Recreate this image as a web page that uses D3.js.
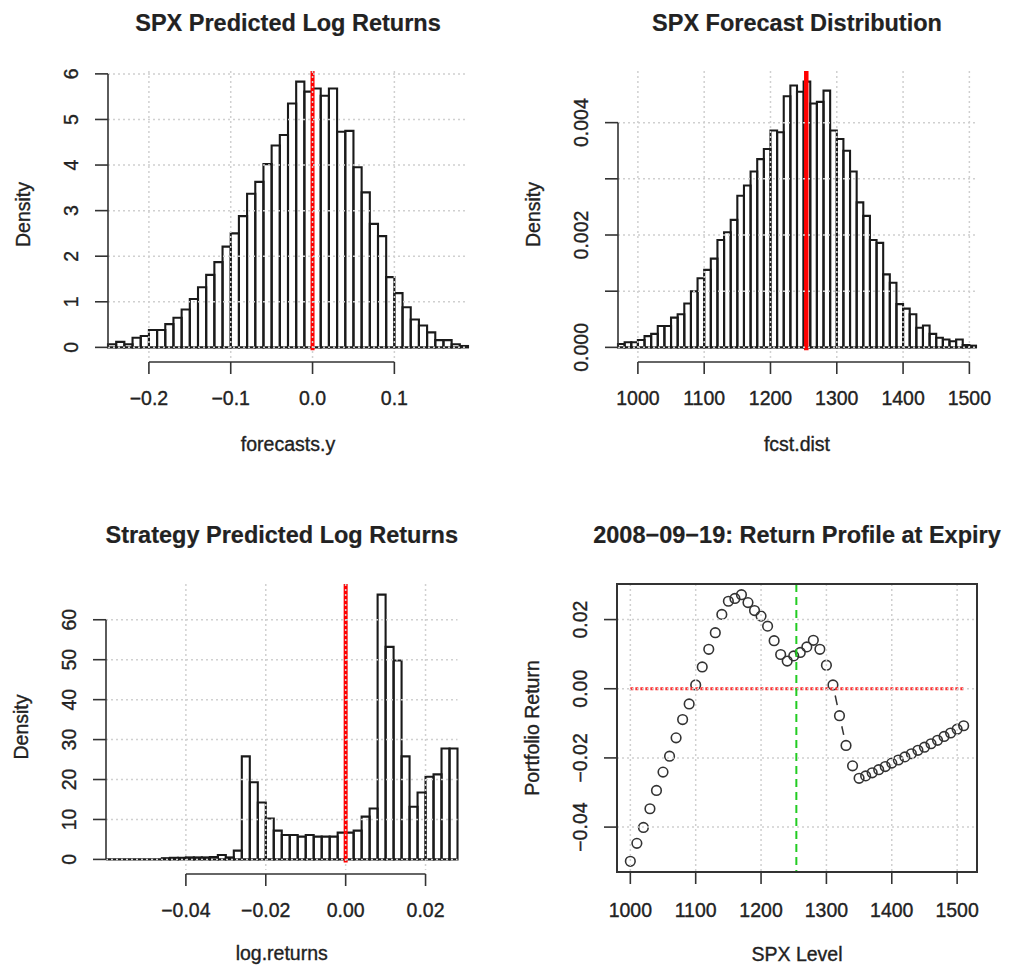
<!DOCTYPE html>
<html>
<head>
<meta charset="utf-8">
<script src="https://cdn.jsdelivr.net/npm/d3@7"></script>
<style>
body{margin:0;background:#fff;}
text{font-family:"Liberation Sans",Arial,Helvetica,sans-serif;fill:#222;stroke:#222;stroke-width:0.35px;}
.title{font-weight:bold;font-size:23.5px;stroke-width:0.2px;}
.tick{font-size:19.5px;}
.lab{font-size:19.5px;}
</style>
</head>
<body>
<div id="chart"></div>
<script>
//---- data ----

//SPX predicted log returns (breaks of 0.01 starting at -0.25)
var fcBinStart=-0.25, fcBinWidth=0.01;
var fcDensity=[0.07,0.12,0.07,0.21,0.25,0.38,0.38,0.51,0.65,0.83,
    1.06,1.32,1.59,1.87,2.21,2.50,2.88,3.37,3.63,4.02,
    4.43,4.66,5.35,5.83,5.61,5.68,5.52,5.68,4.73,4.75,
    3.95,3.40,2.71,2.44,1.54,1.19,0.88,0.61,0.48,0.33,
    0.16,0.16,0.07,0.03];
var fcMark=0;
var fcXTicks=[-0.2,-0.1,0,0.1], fcXLabels=["\u22120.2","\u22120.1","0.0","0.1"];
var fcYTicks=[0,1,2,3,4,5,6], fcYLabels=["0","1","2","3","4","5","6"];

//SPX forecast distribution (breaks of 10 starting at 970)
var distBinStart=970, distBinWidth=10;
var distDensity=[0.00006,0.00009,0.00009,0.00013,0.00020,0.00024,0.00038,0.00038,0.00053,0.00059,
    0.00078,0.00100,0.00123,0.00138,0.00158,0.00191,0.00205,0.00227,0.00270,0.00288,
    0.00313,0.00335,0.00353,0.00386,0.00383,0.00447,0.00466,0.00455,0.00473,0.00434,
    0.00437,0.00457,0.00386,0.00371,0.00350,0.00313,0.00258,0.00234,0.00191,0.00186,
    0.00130,0.00115,0.00077,0.00069,0.00059,0.00035,0.00039,0.00024,0.00017,0.00014,
    0.00011,0.00014,0.00004,0.00003];
var distMark=1254;
var distXTicks=[1000,1100,1200,1300,1400,1500], distXLabels=["1000","1100","1200","1300","1400","1500"];
var distYTicks=[0,0.001,0.002,0.003,0.004], distYLabels=["0.000","","0.002","","0.004"];

//strategy predicted log returns (breaks of 0.002 starting at -0.06)
var stratBinStart=-0.06, stratBinWidth=0.002;
var stratDensity=[0,0,0,0,0,0,0,0.3,0.4,0.4,
    0.5,0.5,0.5,0.6,1.1,0.5,2.2,25.8,19.3,14.25,
    10.25,7.2,6.1,6.1,5.7,6.1,5.7,5.7,5.7,6.7,
    6.7,7.2,10.7,12.75,66.3,53.2,49.8,25.8,13.2,16.75,
    20.7,21.3,27.75,27.75];
var stratMark=0;
var stratXTicks=[-0.04,-0.02,0,0.02], stratXLabels=["\u22120.04","\u22120.02","0.00","0.02"];
var stratYTicks=[0,10,20,30,40,50,60], stratYLabels=["0","10","20","30","40","50","60"];

//return profile at expiry
var spxLevels=d3.range(1000,1511,10);
var portReturn=[-0.0499,-0.0447,-0.0401,-0.0347,-0.0294,-0.0241,-0.0195,-0.0142,-0.0089,-0.0044,
    0.0011,0.0063,0.0114,0.0162,0.0215,0.0253,0.0261,0.0272,0.0249,0.0226,
    0.0210,0.0181,0.0139,0.0099,0.0080,0.0095,0.0105,0.0121,0.0140,0.0114,
    0.0068,0.0011,-0.0078,-0.0164,-0.0223,-0.0259,-0.0252,-0.0243,-0.0234,-0.0225,
    -0.0215,-0.0206,-0.0197,-0.0188,-0.0178,-0.0169,-0.0159,-0.0149,-0.0138,-0.0128,
    -0.0117,-0.0107];
var spxSpot=1254;
var profXTicks=[1000,1100,1200,1300,1400,1500], profXLabels=["1000","1100","1200","1300","1400","1500"];
var profYTicks=[-0.04,-0.02,0,0.02], profYLabels=["\u22120.04","\u22120.02","0.00","0.02"];

//---- drawing ----
var svg=d3.select("#chart")
    .append("svg")
    .attr("width",1011)
    .attr("height",966);

var gridStyle={stroke:"#d0d0d0",width:1.5,dash:"2,3"};

//lightgray dotted grid, drawn last like R's grid()
function drawGrid(g,x,y,xTicks,yTicks,box){
    g.selectAll(null).data(xTicks).enter().append("line")
        .attr("x1",d=>x(d)).attr("x2",d=>x(d))
        .attr("y1",box.y0).attr("y2",box.y1)
        .attr("stroke",gridStyle.stroke).attr("stroke-width",gridStyle.width)
        .attr("stroke-dasharray",gridStyle.dash);
    g.selectAll(null).data(yTicks).enter().append("line")
        .attr("x1",box.x0).attr("x2",box.x1)
        .attr("y1",d=>y(d)).attr("y2",d=>y(d))
        .attr("stroke",gridStyle.stroke).attr("stroke-width",gridStyle.width)
        .attr("stroke-dasharray",gridStyle.dash);
}

//R style axes: lines only spanning the ticks
function drawAxes(g,x,y,o,box,xAxisY){
    var axCol="#333";
    //x axis
    g.append("line")
        .attr("x1",x(o.xTicks[0])).attr("x2",x(o.xTicks[o.xTicks.length-1]))
        .attr("y1",xAxisY).attr("y2",xAxisY)
        .attr("stroke",axCol).attr("stroke-width",1.6);
    g.selectAll(null).data(o.xTicks).enter().append("line")
        .attr("x1",d=>x(d)).attr("x2",d=>x(d))
        .attr("y1",xAxisY).attr("y2",xAxisY+12)
        .attr("stroke",axCol).attr("stroke-width",1.6);
    g.selectAll(null).data(o.xTicks).enter().append("text")
        .attr("class","tick")
        .attr("x",d=>x(d)).attr("y",box.y1+o.tickDy)
        .attr("text-anchor","middle")
        .text((d,i)=>o.xLabels[i]);
    //y axis
    g.append("line")
        .attr("x1",box.x0).attr("x2",box.x0)
        .attr("y1",y(o.yTicks[0])).attr("y2",y(o.yTicks[o.yTicks.length-1]))
        .attr("stroke",axCol).attr("stroke-width",1.6);
    g.selectAll(null).data(o.yTicks).enter().append("line")
        .attr("x1",box.x0-13).attr("x2",box.x0)
        .attr("y1",d=>y(d)).attr("y2",d=>y(d))
        .attr("stroke",axCol).attr("stroke-width",1.6);
    g.selectAll(null).data(o.yTicks).enter().append("text")
        .attr("class","tick")
        .attr("transform",d=>`translate(${box.x0-30},${y(d)}) rotate(-90)`)
        .attr("text-anchor","middle")
        .text((d,i)=>o.yLabels[i]);
    //titles
    g.append("text").attr("class","title")
        .attr("x",(box.x0+box.x1)/2).attr("y",box.y0+o.titleDy)
        .attr("text-anchor","middle").text(o.title);
    g.append("text").attr("class","lab")
        .attr("x",(box.x0+box.x1)/2).attr("y",box.y1+o.labDy)
        .attr("text-anchor","middle").text(o.xlab);
    g.append("text").attr("class","lab")
        .attr("transform",`translate(${box.x0-78},${(box.y0+box.y1)/2}) rotate(-90)`)
        .attr("text-anchor","middle").text(o.ylab);
}

function histPanel(o){
    var box=o.box;
    var n=o.density.length;
    var edges=d3.range(n+1).map(i=>o.binStart+i*o.binWidth);
    var maxD=d3.max(o.density);
    var x=d3.scaleLinear().domain([edges[0],edges[n]]).range([box.x0,box.x1]);
    var y=d3.scaleLinear().domain([-0.04*maxD,1.04*maxD]).range([box.y1,box.y0]);
    var g=svg.append("g");

    //bars as outlined paths so zero-height bins still show
    g.selectAll(null).data(o.density).enter().append("path")
        .attr("d",(d,i)=>`M${x(edges[i])},${y(0)}V${y(d)}H${x(edges[i+1])}V${y(0)}Z`)
        .attr("fill","none")
        .attr("stroke","#1a1a1a")
        .attr("stroke-width",2.1);

    //vertical marker
    g.append("line")
        .attr("x1",x(o.mark)).attr("x2",x(o.mark))
        .attr("y1",box.y0).attr("y2",y(0)+3)
        .attr("stroke","#ff0000").attr("stroke-width",o.markWidth);

    drawGrid(g,x,y,o.xTicks,o.yTicks,box);
    drawAxes(g,x,y,o,box,box.y1+4);
}

histPanel({
    box:{x0:108,x1:468,y0:71,y1:358},
    binStart:fcBinStart,binWidth:fcBinWidth,density:fcDensity,
    mark:fcMark,markWidth:4,
    xTicks:fcXTicks,xLabels:fcXLabels,yTicks:fcYTicks,yLabels:fcYLabels,
    title:"SPX Predicted Log Returns",titleDy:-40,tickDy:47,labDy:93,
    xlab:"forecasts.y",ylab:"Density"
});

histPanel({
    box:{x0:618,x1:976,y0:71,y1:358},
    binStart:distBinStart,binWidth:distBinWidth,density:distDensity,
    mark:distMark,markWidth:4.5,
    xTicks:distXTicks,xLabels:distXLabels,yTicks:distYTicks,yLabels:distYLabels,
    title:"SPX Forecast Distribution",titleDy:-40,tickDy:47,labDy:93,
    xlab:"fcst.dist",ylab:"Density"
});

histPanel({
    box:{x0:106,x1:457.5,y0:584,y1:870},
    binStart:stratBinStart,binWidth:stratBinWidth,density:stratDensity,
    mark:stratMark,markWidth:4,
    xTicks:stratXTicks,xLabels:stratXLabels,yTicks:stratYTicks,yLabels:stratYLabels,
    title:"Strategy Predicted Log Returns",titleDy:-41,tickDy:47,labDy:90,
    xlab:"log.returns",ylab:"Density"
});

//return profile panel, type="b" points with gapped segments
(function(){
    var box={x0:617,x1:977,y0:584,y1:872};
    var xr=d3.extent(spxLevels), yr=d3.extent(portReturn);
    var xp=(xr[1]-xr[0])*0.04, yp=(yr[1]-yr[0])*0.04;
    var x=d3.scaleLinear().domain([xr[0]-xp,xr[1]+xp]).range([box.x0,box.x1]);
    var y=d3.scaleLinear().domain([yr[0]-yp,yr[1]+yp]).range([box.y1,box.y0]);
    var g=svg.append("g");
    var pts=spxLevels.map((d,i)=>[x(d),y(portReturn[i])]);
    var gap=10.8;

    //segments between points, trimmed around each point
    for (var i=0;i<pts.length-1;i++){
        var a=pts[i], b=pts[i+1];
        var dx=b[0]-a[0], dy=b[1]-a[1], len=Math.sqrt(dx*dx+dy*dy);
        if (len>2*gap){
            g.append("line")
                .attr("x1",a[0]+dx/len*gap).attr("y1",a[1]+dy/len*gap)
                .attr("x2",b[0]-dx/len*gap).attr("y2",b[1]-dy/len*gap)
                .attr("stroke","#333").attr("stroke-width",1.5);
        }
    }
    g.selectAll("circle").data(pts).enter().append("circle")
        .attr("cx",d=>d[0]).attr("cy",d=>d[1])
        .attr("r",4.8)
        .attr("fill","none")
        .attr("stroke","#333")
        .attr("stroke-width",1.6);

    //zero line across the level range
    g.append("line")
        .attr("x1",x(xr[0])).attr("x2",x(xr[1]))
        .attr("y1",y(0)).attr("y2",y(0))
        .attr("stroke","#ff3030").attr("stroke-width",2.8)
        .attr("stroke-dasharray","3,2");
    //current level
    g.append("line")
        .attr("x1",x(spxSpot)).attr("x2",x(spxSpot))
        .attr("y1",box.y0).attr("y2",box.y1)
        .attr("stroke","#22cc22").attr("stroke-width",2)
        .attr("stroke-dasharray","8,5");

    drawGrid(g,x,y,profXTicks,profYTicks,box);

    g.append("rect")
        .attr("x",box.x0).attr("y",box.y0)
        .attr("width",box.x1-box.x0).attr("height",box.y1-box.y0)
        .attr("fill","none").attr("stroke","#333").attr("stroke-width",2);

    drawAxes(g,x,y,{
        xTicks:profXTicks,xLabels:profXLabels,yTicks:profYTicks,yLabels:profYLabels,
        title:"2008\u221209\u221219: Return Profile at Expiry",titleDy:-41,tickDy:45,labDy:89,
        xlab:"SPX Level",ylab:"Portfolio Return"
    },box,box.y1);
})();
</script>
</body>
</html>
